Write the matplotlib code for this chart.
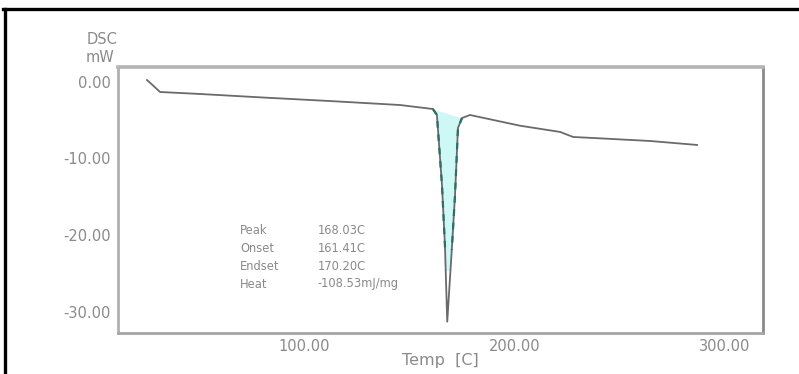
import matplotlib
matplotlib.use('Agg')
import matplotlib.pyplot as plt
import numpy as np
from matplotlib.patches import Rectangle
from matplotlib.lines import Line2D

# DSC curve (Temp [C] vs DSC [mW])
temp = [25.4, 31.6, 50.6, 80.5, 112.3, 145.6, 161.2, 163.1, 165.5, 166.9, 168.0,
        170.3, 171.7, 173.1, 175.0, 178.8, 202.6, 221.6, 227.8, 237.3, 264.3, 286.7]
dsc = [0.22, -1.34, -1.60, -2.06, -2.52, -3.04, -3.56, -4.34, -13.47, -21.3, -31.3,
       -21.3, -14.78, -6.04, -4.74, -4.34, -5.74, -6.55, -7.21, -7.34, -7.73, -8.25]

# peak integration limits (onset / endset points on the curve)
onset_pt = (161.2, -3.56)
endset_pt = (175.0, -4.74)

xticks = [100, 200, 300]
xtick_labels = ['100.00', '200.00', '300.00']
yticks = [0, -10, -20, -30]
ytick_labels = ['0.00', '-10.00', '-20.00', '-30.00']

peak_names = ['Peak', 'Onset', 'Endset', 'Heat']
peak_values = ['168.03C', '161.41C', '170.20C', '-108.53mJ/mg']

W, H = 799, 374
fig = plt.figure(figsize=(W / 100, H / 100), dpi=100)
fig.patch.set_facecolor('white')

ax_l, ax_r, ax_t, ax_b = 118, 763, 67, 333
ax = fig.add_axes([ax_l / W, 1 - ax_b / H, (ax_r - ax_l) / W, (ax_b - ax_t) / H])

t = np.array(temp)
d = np.array(dsc)
mask = (t >= onset_pt[0]) & (t <= endset_pt[0])
tp, dp = t[mask], d[mask]
base = np.interp(tp, [onset_pt[0], endset_pt[0]], [onset_pt[1], endset_pt[1]])

fill = ax.fill_between(tp, dp, base, color='#cdf8f5', lw=0, zorder=1)
clip = Rectangle((150, -24.5), 40, 30, transform=ax.transData)
fill.set_clip_path(clip)

ax.plot(t, d, color='#6a6a6a', lw=1.3, zorder=2)
dash, = ax.plot(tp, dp, color='#2f6e66', lw=1.6, ls=(0, (3, 3)), zorder=3)
clip2 = Rectangle((150, -22.0), 40, 30, transform=ax.transData)
dash.set_clip_path(clip2)

ax.set_xlim(11.6, 318.0)
ax.set_ylim(-32.78, 1.92)
ax.set_xticks(xticks, xtick_labels)
ax.set_yticks(yticks, ytick_labels)
ax.tick_params(axis='both', length=0, colors='#8a8a8a', labelsize=10.5)
ax.tick_params(axis='x', pad=4)
ax.tick_params(axis='y', pad=5)

for side, col, lw in [('top', '#b4b4b4', 2.6), ('bottom', '#a6a6a6', 2.0),
                      ('left', '#b0b0b0', 2.0), ('right', '#8a8a8a', 2.0)]:
    ax.spines[side].set_color(col)
    ax.spines[side].set_linewidth(lw)

# axis titles
fig.text(440.5 / W, 1 - 360 / H, 'Temp  [C]', ha='center', va='center',
         color='#8a8a8a', fontsize=11.5)
fig.text(118 / W, 1 - 40 / H, 'DSC', ha='right', va='center', color='#8a8a8a', fontsize=10.5)
fig.text(114 / W, 1 - 58 / H, 'mW', ha='right', va='center', color='#8a8a8a', fontsize=10.5)

# peak annotation table
rows_y = [230, 248, 266, 284]
for name, val, yy in zip(peak_names, peak_values, rows_y):
    fig.text(240 / W, 1 - yy / H, name, ha='left', va='center', color='#8a8a8a', fontsize=8.3)
    fig.text(318 / W, 1 - yy / H, val, ha='left', va='center', color='#8a8a8a', fontsize=8.3)

# outer black frame (top and left)
fig.add_artist(Line2D([3 / W, 1], [1 - 8.5 / H, 1 - 8.5 / H], color='black', lw=2.4,
                      transform=fig.transFigure))
fig.add_artist(Line2D([4.5 / W, 4.5 / W], [0, 1 - 8.5 / H], color='black', lw=2.4,
                      transform=fig.transFigure))

fig.savefig('out.png', dpi=100, facecolor='white')
